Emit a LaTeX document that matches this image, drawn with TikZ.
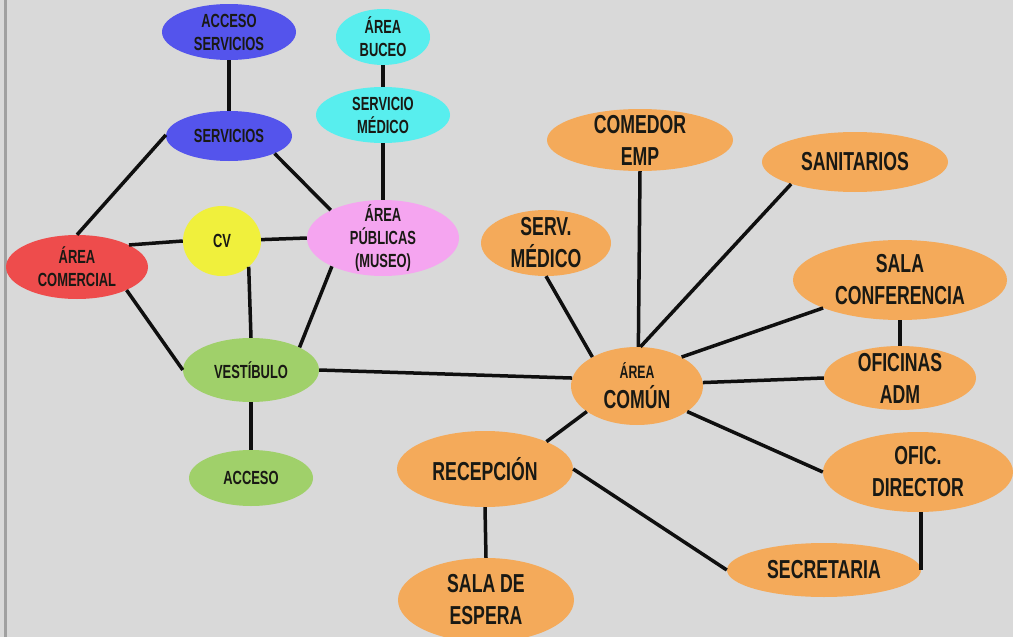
\documentclass[tikz,border=0pt]{standalone}
\usepackage{fontspec}
\newfontfamily\bebas[FakeStretch=0.68]{Liberation Sans}
\usetikzlibrary{shapes.geometric}
\definecolor{bgc}{RGB}{217,217,217}
\definecolor{edgec}{RGB}{15,15,15}
\definecolor{txtc}{RGB}{25,25,20}
\definecolor{blueN}{RGB}{84,84,236}
\definecolor{cyanN}{RGB}{88,238,238}
\definecolor{pinkN}{RGB}{245,165,240}
\definecolor{yellowN}{RGB}{240,240,60}
\definecolor{redN}{RGB}{238,76,76}
\definecolor{greenN}{RGB}{160,208,106}
\definecolor{orangeN}{RGB}{244,170,90}
\definecolor{borderc}{RGB}{160,160,160}
\tikzset{
  bub/.style={ellipse, draw=none, inner sep=0pt},
  lt/.style={align=center, text=txtc, font=\bebas\bfseries\fontsize{19}{23}\selectfont},
  rt/.style={align=center, text=txtc, font=\bebas\bfseries\fontsize{26}{32}\selectfont},
  link/.style={draw=edgec, line width=3.5pt}
}
\begin{document}
\begin{tikzpicture}[x=1pt, y=-1pt]
\useasboundingbox (0,0) rectangle (1013,637);
\fill[bgc] (0,0) rectangle (1013,637);
\fill[borderc] (4,0) rectangle (7,637);

% left group
\node[bub, fill=blueN, minimum width=134, minimum height=56, label={[lt]center:ACCESO\\SERVICIOS}] (as) at (229,32) {};
\node[bub, fill=blueN, minimum width=126, minimum height=50, label={[lt]center:SERVICIOS}] (sv) at (229,136) {};
\node[bub, fill=cyanN, minimum width=94, minimum height=56, label={[lt]center:ÁREA\\BUCEO}] (ab) at (383,37) {};
\node[bub, fill=cyanN, minimum width=134, minimum height=56, label={[lt]center:SERVICIO\\MÉDICO}] (sm) at (383,115) {};
\node[bub, fill=pinkN, minimum width=152, minimum height=76, label={[lt]center:ÁREA\\PÚBLICAS\\(MUSEO)}] (ap) at (383,238) {};
\node[bub, fill=yellowN, minimum width=78, minimum height=70, label={[lt]center:CV}] (cv) at (222,241) {};
\node[bub, fill=redN, minimum width=142, minimum height=64, label={[lt]center:ÁREA\\COMERCIAL}] (ac) at (77,267) {};
\node[bub, fill=greenN, minimum width=136, minimum height=64, label={[lt]center:VESTÍBULO}] (ve) at (251,370) {};
\node[bub, fill=greenN, minimum width=124, minimum height=56, label={[lt]center:ACCESO}] (ax) at (251,478) {};

% right group
\node[bub, fill=orangeN, minimum width=186, minimum height=62, label={[rt]center:COMEDOR\\EMP}] (ce) at (640,140) {};
\node[bub, fill=orangeN, minimum width=186, minimum height=60, label={[rt]center:SANITARIOS}] (sa) at (855,162) {};
\node[bub, fill=orangeN, minimum width=130, minimum height=66, label={[rt]center:SERV.\\MÉDICO}] (sme) at (546,243) {};
\node[bub, fill=orangeN, minimum width=214, minimum height=80, label={[rt]center:SALA\\CONFERENCIA}] (sc) at (900,280) {};
\node[bub, fill=orangeN, minimum width=152, minimum height=64, label={[rt]center:OFICINAS\\ADM}] (oa) at (900,378) {};
\node[bub, fill=orangeN, minimum width=132, minimum height=78, label={[rt]center:{\fontsize{18}{22}\selectfont ÁREA}\\[-2pt]COMÚN}] (co) at (637,386) {};
\node[bub, fill=orangeN, minimum width=190, minimum height=80, label={[rt]center:OFIC.\\DIRECTOR}] (od) at (918,472) {};
\node[bub, fill=orangeN, minimum width=176, minimum height=76, label={[rt]center:RECEPCIÓN}] (re) at (485,469) {};
\node[bub, fill=orangeN, minimum width=194, minimum height=54, label={[rt]center:SECRETARIA}] (se) at (824,570) {};
\node[bub, fill=orangeN, minimum width=176, minimum height=84, label={[rt]center:SALA DE\\ESPERA}] (es) at (486,600) {};

% left edges
\draw[link] (as.south) -- (sv.north);
\draw[link] (ab.south) -- (sm.north);
\draw[link] (sm.south) -- (ap.north);
\draw[link] (ve.south) -- (ax.north);
\draw[link] (sv.179) -- (ac.north);
\draw[link] (sv.-21) -- (ap.152);
\draw[link] (ac.23) -- (cv.180);
\draw[link] (cv.2) -- (ap.180);
\draw[link] (cv.-44) -- (ve.north);
\draw[link] (ap.209) -- (ve.25);
\draw[link] (ac.-25) -- (ve.180);
\draw[link] (ve.0) -- (co.173);

% right edges
\draw[link] (sme.south) -- (co.147);
\draw[link] (ce.south) -- (co.88);
\draw[link] (sa.199) -- (co.85);
\draw[link] (sc.200) -- (co.33);
\draw[link] (sc.south) -- (oa.north);
\draw[link] (oa.180) -- (co.3);
\draw[link] (co.207) -- (re.24);
\draw[link] (co.-27) -- (od.180);
\draw[link] (re.0) -- (se.180);
\draw[link] (se.east |- od.south) -- (se.east);
\draw[link] (re.south) -- (es.north);
\end{tikzpicture}
\end{document}
